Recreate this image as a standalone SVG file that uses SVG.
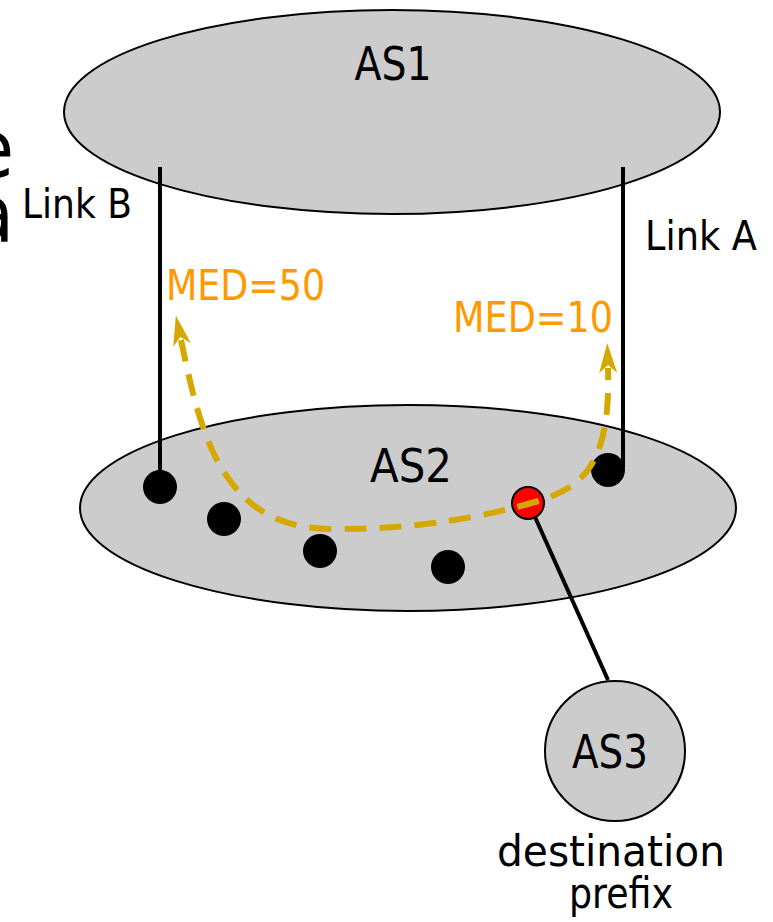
<svg xmlns="http://www.w3.org/2000/svg" width="773" height="922" viewBox="0 0 773 922">
<style>
text{font-family:"DejaVu Sans Condensed","DejaVu Sans",sans-serif;}
.as{fill:#cccccc;stroke:#000;stroke-width:2;}
.lbl{font-size:46px;fill:#000;text-anchor:middle;}
.lnk{font-size:41px;fill:#000;}
.med{font-size:43px;fill:#ff9900;}
.rt{fill:#000;}
.link{stroke:#000;stroke-width:4;fill:none;}
.adv{stroke:#d4a800;stroke-width:6;fill:none;stroke-dasharray:22 13;}
</style>
<defs>
<marker id="ah" markerUnits="userSpaceOnUse" markerWidth="32" markerHeight="20" viewBox="0 0 32 20" refX="5" refY="10" orient="auto-start-reverse">
<path d="M0,1 L30,10 L0,19 L8,10 z" fill="#d4a800"/>
</marker>
</defs>
<text x="14" y="177" font-size="80" text-anchor="end" fill="#000">e</text>
<text x="14" y="242" font-size="80" text-anchor="end" fill="#000">a</text>
<g id="AS1">
<ellipse class="as" cx="392" cy="112" rx="328" ry="102"/>
<text class="lbl" x="393" y="80" textLength="77" lengthAdjust="spacingAndGlyphs">AS1</text>
</g>
<g id="AS2">
<ellipse class="as" cx="408" cy="508" rx="328" ry="103"/>
<text class="lbl" x="411" y="482" textLength="82" lengthAdjust="spacingAndGlyphs">AS2</text>
</g>
<g id="r1"><circle class="rt" cx="160" cy="487" r="17"/></g>
<g id="r2"><circle class="rt" cx="224" cy="519" r="17"/></g>
<g id="r3"><circle class="rt" cx="320" cy="551" r="17"/></g>
<g id="r4"><circle class="rt" cx="448" cy="567" r="17"/></g>
<g id="r5"><circle class="rt" cx="608" cy="470" r="17"/></g>
<g id="r6"><circle cx="528" cy="503" r="16" fill="#ff0000" stroke="#000" stroke-width="2"/></g>
<g id="connectors">
<line class="link" x1="160" y1="167" x2="160" y2="487"/>
<line class="link" x1="623" y1="167" x2="623" y2="468"/>
<line class="link" x1="535" y1="517" x2="608" y2="680"/>
<path class="adv" marker-start="url(#ah)" marker-end="url(#ah)" d="M181,340 C200,430 220,528 330,529 C420,530 490,515 535,502 C582,488 611,466 608,368"/>
</g>
<g id="AS3">
<circle class="as" cx="615" cy="751" r="70"/>
<text class="lbl" x="610" y="768" textLength="76" lengthAdjust="spacingAndGlyphs">AS3</text>
</g>
<text class="lnk" x="22" y="218" textLength="110" lengthAdjust="spacingAndGlyphs">Link B</text>
<text class="lnk" x="645" y="250" textLength="112" lengthAdjust="spacingAndGlyphs">Link A</text>
<text class="med" x="166" y="300" textLength="159" lengthAdjust="spacingAndGlyphs">MED=50</text>
<text class="med" x="453" y="332" textLength="160" lengthAdjust="spacingAndGlyphs">MED=10</text>
<text x="611" y="866" font-size="42" text-anchor="middle" textLength="228" lengthAdjust="spacingAndGlyphs">destination</text>
<text x="621" y="908" font-size="42" text-anchor="middle" textLength="104" lengthAdjust="spacingAndGlyphs">prefix</text>
</svg>
